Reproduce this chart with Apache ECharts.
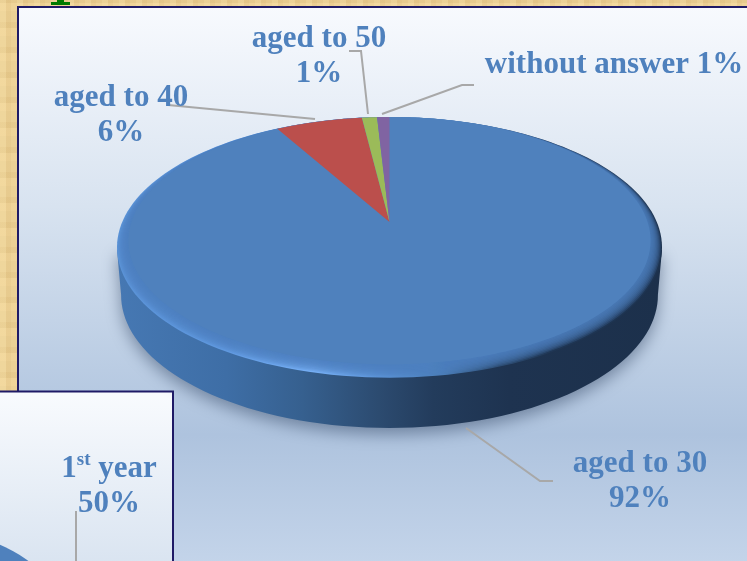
<!DOCTYPE html>
<html>
<head>
<meta charset="utf-8">
<script src="https://cdn.jsdelivr.net/npm/echarts@6/dist/echarts.min.js"></script>
<style>
html, body { margin: 0; padding: 0; width: 747px; height: 561px; overflow: hidden; }
body {
  background-color: #ebd095;
  background-image:
    repeating-linear-gradient(90deg, rgba(255,235,180,.22) 0 6px, rgba(205,165,95,.12) 6px 11px, rgba(255,235,180,0) 11px 17px),
    repeating-linear-gradient(0deg, rgba(255,225,165,.2) 0 8px, rgba(200,160,90,.13) 8px 14px, rgba(255,235,180,0) 14px 25px);
}
#chart { width: 747px; height: 561px; }
</style>
</head>
<body>
<div id="chart"></div>
<script>
// main pie, clockwise from 12 o'clock
const ageNames = ['aged to 30', 'aged to 40', 'aged to 50', 'without answer']
const ageValues = [91.7, 6.3, 1.1, 0.9]
const ageColors = ['#4f81bd', '#bb4f4c', '#9bbb59', '#8064a2']

// second chart, mostly hidden behind the window edge
const yearNames = ['1st year']
const yearValues = [50]

const labelFont = 'bold 31px "Liberation Serif", serif'
const textColor = '#4f81bd'
const lineColor = '#a8a8a8'

// perspective view of the disc
const cx = 389.5, apexY = 222, wallH = 45
const persp = -0.2105, scaleX = 266.4, scaleY = 127.1
const topY = apexY - scaleY / (1 - persp)

function project(deg, insetX, insetY) {
    const t = deg * Math.PI / 180
    const u = Math.sin(t), v = -Math.cos(t)
    const d = 1 + persp * v
    let x = scaleX * u / d
    let y = apexY + scaleY * v / d
    if (insetX || insetY) {
        x = x * (1 - insetX)
        y = topY + (y - topY) * (1 - insetY)
    }
    return [cx + x, y]
}

function ring(insetX, insetY) {
    const pts = []
    for (let a = 0; a < 360; a += 2) pts.push(project(a, insetX, insetY))
    return pts
}

function wallPoints() {
    const pts = ring(0, 0)
    let left = 0, right = 0
    pts.forEach((p, i) => {
        if (p[0] < pts[left][0]) left = i
        if (p[0] > pts[right][0]) right = i
    })
    const out = []
    out.push(pts[right])
    for (let i = right; i <= left; i++) {
        // wall narrows a little towards the table
        out.push([cx + (pts[i][0] - cx) * 0.985, pts[i][1] + wallH])
    }
    out.push(pts[left])
    return out
}

function hGradient(stops) {
    return {
        type: 'linear', x: 117, y: 0, x2: 662, y2: 0, global: true,
        colorStops: stops.map(s => ({ offset: s[0], color: s[1] }))
    }
}

const wallFill = hGradient([[0, '#4678b3'], [0.2, '#3e6ea6'], [0.34, '#36608f'], [0.48, '#2c4b70'], [0.58, '#233c5c'], [0.72, '#1e3350'], [1, '#1c304b']])
const rimFill = hGradient([[0, '#5a92d6'], [0.2, '#5f98df'], [0.36, '#76aff5'], [0.48, '#5a92d6'], [0.6, '#4a7db8'], [0.7, '#2f5078'], [0.8, '#1f3654'], [1, '#1d3350']])

function renderDisc() {
    const children = [{
        type: 'polygon',
        shape: { points: wallPoints() },
        style: { fill: wallFill, shadowBlur: 16, shadowColor: 'rgba(45,65,95,.5)', shadowOffsetY: 6 }
    }, {
        type: 'polygon',
        shape: { points: ring(0, 0.02) },
        style: { fill: rimFill }
    }]
    // soft edge of the bevel
    for (let i = 1; i <= 10; i++) {
        children.push({
            type: 'polygon',
            shape: { points: ring(0.0042 * i, 0.02 + 0.005 * i) },
            style: { fill: 'rgba(79,129,189,.22)' }
        })
    }
    return { type: 'group', children: children }
}

function renderSlice(params, api) {
    const start = api.value(1) * 3.6, end = api.value(2) * 3.6
    const main = params.dataIndex === 0
    const pts = [[cx, apexY]]
    for (let a = start; a < end; a += 0.5) pts.push(project(a, main ? 0.042 : 0, main ? 0.07 : 0))
    pts.push(project(end, main ? 0.042 : 0, main ? 0.07 : 0))
    return {
        type: 'polygon',
        shape: { points: pts },
        style: { fill: ageColors[params.dataIndex] }
    }
}

function pct(v) {
    return Math.round(v) + '%'
}

const ageLabels = [
    { text: ageNames[0] + '\n' + pct(ageValues[0]), x: 640, y: 481, line: [[466, 428], [540, 481], [553, 481]] },
    { text: ageNames[1] + '\n' + pct(ageValues[1]), x: 121, y: 115, line: [[168, 105], [315, 119]] },
    { text: ageNames[2] + '\n' + pct(ageValues[2]), x: 319, y: 56, line: [[349, 51], [361, 51], [368, 114]] },
    { text: ageNames[3] + ' ' + pct(ageValues[3]), x: 614, y: 65, line: [[382, 114], [462, 85], [474, 85]] }
]

function renderLabel(params) {
    const l = ageLabels[params.dataIndex]
    return {
        type: 'group',
        children: [{
            type: 'polyline',
            shape: { points: l.line },
            style: { stroke: lineColor, lineWidth: 2, fill: 'none' }
        }, {
            type: 'text',
            style: {
                text: l.text, x: l.x, y: l.y, fill: textColor, font: labelFont,
                align: 'center', verticalAlign: 'middle', lineHeight: 35
            }
        }]
    }
}

function renderYear() {
    const pts = []
    for (let a = 270; a < 400; a += 3) {
        const t = a * Math.PI / 180
        pts.push([-70 + 152 * Math.cos(t), 660 + 130 * Math.sin(t)])
    }
    const parts = yearNames[0].match(/^(\d+)(\w+)(.*)$/)
    return {
        type: 'group',
        children: [{
            type: 'polygon',
            shape: { points: pts },
            style: { fill: '#4f81bd' }
        }, {
            type: 'line',
            shape: { x1: 76, y1: 511, x2: 76, y2: 561 },
            style: { stroke: lineColor, lineWidth: 2 }
        }, {
            type: 'text',
            style: {
                text: '{n|' + parts[1] + '}{s|' + parts[2] + '}{n|' + parts[3] + '}\n{n|' + pct(yearValues[0]) + '}',
                x: 109, y: 486, align: 'center', verticalAlign: 'middle',
                rich: {
                    n: { font: labelFont, fill: textColor, color: textColor, lineHeight: 35 },
                    s: { font: 'bold 19px "Liberation Serif", serif', fill: textColor, color: textColor, lineHeight: 35, verticalAlign: 'top' }
                }
            }
        }]
    }
}

function panelGradient(stops) {
    return {
        type: 'linear', x: 0, y: 0, x2: 0, y2: 1,
        colorStops: stops.map(s => ({ offset: s[0], color: s[1] }))
    }
}

let cum = 0
const sliceData = ageValues.map(v => {
    const row = [v, cum, cum + v]
    cum += v
    return row
})

const chart = echarts.init(document.getElementById('chart'), null, { renderer: 'canvas' })
chart.setOption({
    animation: false,
    backgroundColor: 'transparent',
    graphic: [{
        type: 'rect', z: 0, silent: true,
        shape: { x: 18, y: 7, width: 740, height: 570 },
        style: {
            stroke: '#1f1a66', lineWidth: 2,
            fill: panelGradient([[0, '#f8fafe'], [0.35, '#d8e3f0'], [0.75, '#aec3de'], [1, '#c6d6eb']])
        }
    }, {
        type: 'rect', z: 1, silent: true,
        shape: { x: -5, y: 391.5, width: 178, height: 180 },
        style: {
            stroke: '#1f1a66', lineWidth: 2,
            fill: panelGradient([[0, '#f9fbfe'], [1, '#d8e3f0']])
        }
    }, {
        // foot of the slide title letter
        type: 'group', z: 1, silent: true,
        children: [
            { type: 'rect', shape: { x: 57, y: 0, width: 7, height: 2 }, style: { fill: '#007a00' } },
            { type: 'rect', shape: { x: 51, y: 2, width: 19, height: 3 }, style: { fill: '#007a00' } }
        ]
    }],
    series: [{
        type: 'custom', coordinateSystem: 'none', silent: true, z: 3,
        data: [[0]],
        renderItem: renderDisc
    }, {
        type: 'custom', coordinateSystem: 'none', silent: true, z: 4,
        data: sliceData,
        renderItem: renderSlice
    }, {
        type: 'custom', coordinateSystem: 'none', silent: true, z: 5,
        data: ageValues,
        renderItem: renderLabel
    }, {
        type: 'custom', coordinateSystem: 'none', silent: true, z: 5,
        data: yearValues,
        renderItem: renderYear
    }]
})
</script>
</body>
</html>
